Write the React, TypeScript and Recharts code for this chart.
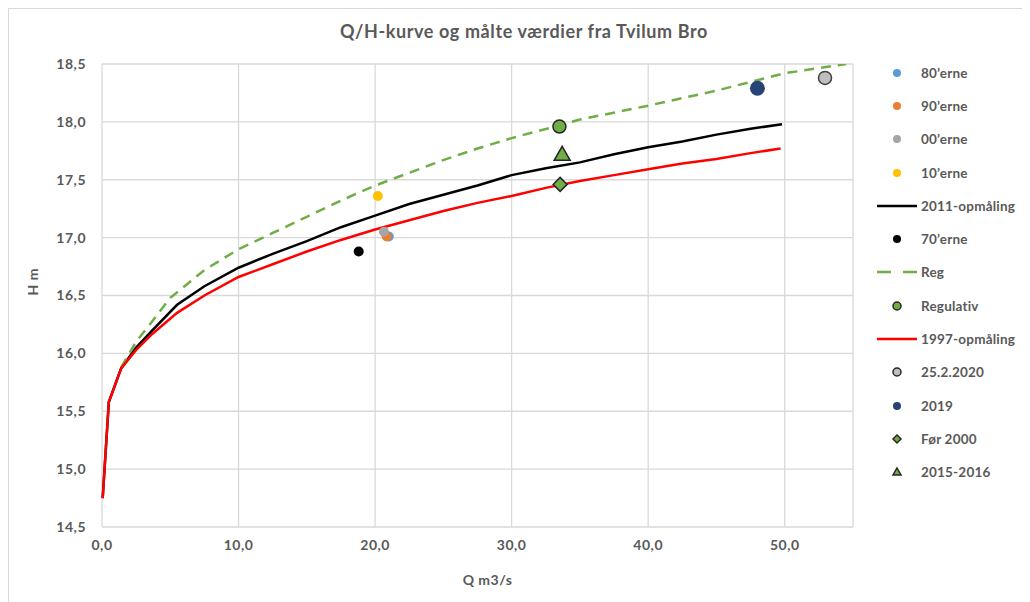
import React from 'react';
import { ComposedChart, Line, Scatter, XAxis, YAxis, CartesianGrid } from 'recharts';

type Pt = { q: number; h: number };

// kurver (Q m3/s, H m)
const opm2011: Pt[] = [
  { q: 0.05, h: 14.75 }, { q: 0.5, h: 15.58 }, { q: 1.4, h: 15.87 }, { q: 2.5, h: 16.05 },
  { q: 3.7, h: 16.2 }, { q: 5.5, h: 16.42 }, { q: 7.5, h: 16.58 }, { q: 10, h: 16.74 },
  { q: 12.5, h: 16.86 }, { q: 15, h: 16.97 }, { q: 17.5, h: 17.09 }, { q: 20, h: 17.19 },
  { q: 22.5, h: 17.29 }, { q: 25, h: 17.37 }, { q: 27.5, h: 17.45 }, { q: 30, h: 17.54 },
  { q: 32.5, h: 17.6 }, { q: 35, h: 17.65 }, { q: 37.5, h: 17.72 }, { q: 40, h: 17.78 },
  { q: 42.5, h: 17.83 }, { q: 45, h: 17.89 }, { q: 47.5, h: 17.94 }, { q: 49.8, h: 17.98 },
];

const opm1997: Pt[] = [
  { q: 0.05, h: 14.75 }, { q: 0.5, h: 15.58 }, { q: 1.4, h: 15.87 }, { q: 2.5, h: 16.03 },
  { q: 3.7, h: 16.17 }, { q: 5.5, h: 16.35 }, { q: 7.5, h: 16.5 }, { q: 10, h: 16.66 },
  { q: 12.5, h: 16.77 }, { q: 15, h: 16.88 }, { q: 17.5, h: 16.98 }, { q: 20, h: 17.07 },
  { q: 22.5, h: 17.15 }, { q: 25, h: 17.23 }, { q: 27.5, h: 17.3 }, { q: 30, h: 17.36 },
  { q: 32.5, h: 17.43 }, { q: 35, h: 17.49 }, { q: 37.5, h: 17.54 }, { q: 40, h: 17.59 },
  { q: 42.5, h: 17.64 }, { q: 45, h: 17.68 }, { q: 47.5, h: 17.73 }, { q: 49.7, h: 17.77 },
];

const reg: Pt[] = [
  { q: 1.4, h: 15.88 }, { q: 2.5, h: 16.1 }, { q: 3.7, h: 16.28 }, { q: 5, h: 16.48 },
  { q: 7.5, h: 16.72 }, { q: 10, h: 16.9 }, { q: 12.5, h: 17.04 }, { q: 15, h: 17.18 },
  { q: 17.5, h: 17.32 }, { q: 20, h: 17.45 }, { q: 22.5, h: 17.56 }, { q: 25, h: 17.67 },
  { q: 27.5, h: 17.77 }, { q: 30, h: 17.86 }, { q: 33.5, h: 17.97 }, { q: 35, h: 18.02 },
  { q: 40, h: 18.14 }, { q: 45, h: 18.27 }, { q: 50, h: 18.42 }, { q: 54.5, h: 18.5 },
];

// målte værdier
const m70: Pt[] = [{ q: 18.8, h: 16.88 }];
const m80: Pt[] = [{ q: 21.0, h: 17.01 }];
const m90: Pt[] = [{ q: 20.85, h: 17.01 }];
const m00: Pt[] = [{ q: 20.65, h: 17.05 }];
const m10: Pt[] = [{ q: 20.2, h: 17.36 }];
const regulativ: Pt[] = [{ q: 33.5, h: 17.96 }];
const m2020: Pt[] = [{ q: 52.95, h: 18.38 }];
const m2019: Pt[] = [{ q: 48.0, h: 18.29 }];
const foer2000: Pt[] = [{ q: 33.55, h: 17.46 }];
const m2015: Pt[] = [{ q: 33.7, h: 17.72 }];

const xTicks = [0, 10, 20, 30, 40, 50];
const yTicks = [14.5, 15, 15.5, 16, 16.5, 17, 17.5, 18, 18.5];

const GREEN = '#70AD47';
const TEXT = '#595959';
const FONT = 'Lato, "Open Sans", sans-serif';
const tickStyle = { fill: TEXT, fontSize: 14, fontWeight: 700, fontFamily: FONT, letterSpacing: 0.5 };

type Kind = 'circle' | 'diamond' | 'triangle' | 'line' | 'dash';
type Entry = { name: string; kind: Kind; fill: string; stroke?: string };

const legendItems: Entry[] = [
  { name: '80’erne', kind: 'circle', fill: '#5B9BD5' },
  { name: '90’erne', kind: 'circle', fill: '#ED7D31' },
  { name: '00’erne', kind: 'circle', fill: '#A5A5A5' },
  { name: '10’erne', kind: 'circle', fill: '#FFC000' },
  { name: '2011-opmåling', kind: 'line', fill: '#000000' },
  { name: '70’erne', kind: 'circle', fill: '#000000' },
  { name: 'Reg', kind: 'dash', fill: GREEN },
  { name: 'Regulativ', kind: 'circle', fill: GREEN, stroke: '#262626' },
  { name: '1997-opmåling', kind: 'line', fill: '#FF0000' },
  { name: '25.2.2020', kind: 'circle', fill: '#BFBFBF', stroke: '#262626' },
  { name: '2019', kind: 'circle', fill: '#264478' },
  { name: 'Før 2000', kind: 'diamond', fill: GREEN, stroke: '#262626' },
  { name: '2015-2016', kind: 'triangle', fill: GREEN, stroke: '#262626' },
];

const marker = (kind: Kind, cx: number, cy: number, r: number, fill: string, stroke?: string) => {
  const sw = stroke ? 1.5 : 0;
  if (kind === 'diamond') {
    return (
      <polygon
        points={`${cx},${cy - r} ${cx + r},${cy} ${cx},${cy + r} ${cx - r},${cy}`}
        fill={fill}
        stroke={stroke}
        strokeWidth={sw}
      />
    );
  }
  if (kind === 'triangle') {
    return (
      <polygon
        points={`${cx},${cy - r} ${cx + r},${cy + r * 0.75} ${cx - r},${cy + r * 0.75}`}
        fill={fill}
        stroke={stroke}
        strokeWidth={sw}
      />
    );
  }
  return <circle cx={cx} cy={cy} r={r} fill={fill} stroke={stroke} strokeWidth={sw} />;
};

const shape = (kind: Kind, r: number, fill: string, stroke?: string) => (props: any) =>
  marker(kind, props.cx, props.cy, r, fill, stroke);

const fmt = (v: number) => v.toFixed(1).replace('.', ',');

const LegendBox = () => (
  <div
    style={{
      position: 'absolute',
      left: 866,
      top: 47,
      fontFamily: FONT,
      fontSize: 13.5,
      fontWeight: 700,
      letterSpacing: 0.2,
      color: TEXT,
    }}
  >
    {legendItems.map((it) => (
      <div key={it.name} style={{ display: 'flex', alignItems: 'center', height: 33.3 }}>
        <svg width={44} height={14}>
          {it.kind === 'line' && <line x1={2} y1={7} x2={42} y2={7} stroke={it.fill} strokeWidth={2.5} />}
          {it.kind === 'dash' && (
            <line x1={2} y1={7} x2={42} y2={7} stroke={it.fill} strokeWidth={2.5} strokeDasharray="14 12" />
          )}
          {it.kind !== 'line' && it.kind !== 'dash' && marker(it.kind, 22, 7, 4, it.fill, it.stroke)}
        </svg>
        <span style={{ marginLeft: 2 }}>{it.name}</span>
      </div>
    ))}
  </div>
);

export default function App() {
  return (
    <div
      style={{
        position: 'relative',
        width: 1013,
        height: 594,
        borderLeft: '1px solid #d9d9d9',
        borderTop: '1px solid #d9d9d9',
        background: '#fff',
      }}
    >
      <div
        style={{
          position: 'absolute',
          top: 11,
          left: 0,
          width: 1030,
          textAlign: 'center',
          fontFamily: FONT,
          fontSize: 18,
          fontWeight: 700,
          letterSpacing: 0.6,
          color: TEXT,
        }}
      >
        Q/H-kurve og målte værdier fra Tvilum Bro
      </div>
      <ComposedChart width={1000} height={590} margin={{ top: 55, right: 156, bottom: 0, left: 0 }}>
        <CartesianGrid stroke="#d9d9d9" strokeWidth={1.3} />
        <XAxis
          type="number"
          dataKey="q"
          domain={[0, 55]}
          ticks={xTicks}
          tickFormatter={fmt}
          axisLine={false}
          tickLine={false}
          height={72}
          tickMargin={7}
          tick={tickStyle}
          label={{ value: 'Q m3/s', position: 'insideBottom', offset: 14, dx: 10, ...tickStyle }}
        />
        <YAxis
          type="number"
          dataKey="h"
          domain={[14.5, 18.5]}
          ticks={yTicks}
          tickFormatter={fmt}
          axisLine={false}
          tickLine={false}
          width={93}
          tickMargin={10}
          allowDataOverflow
          tick={tickStyle}
          label={{ value: 'H m', angle: -90, position: 'insideLeft', offset: 24, ...tickStyle }}
        />
        <Line data={opm2011} dataKey="h" name="2011-opmåling" stroke="#000" strokeWidth={2.5} dot={false} isAnimationActive={false} />
        <Line data={reg} dataKey="h" name="Reg" stroke={GREEN} strokeWidth={2.5} strokeDasharray="10 7" dot={false} isAnimationActive={false} />
        <Line data={opm1997} dataKey="h" name="1997-opmåling" stroke="#FF0000" strokeWidth={2.5} dot={false} isAnimationActive={false} />
        <Scatter data={m80} name="80’erne" shape={shape('circle', 5, '#5B9BD5')} isAnimationActive={false} />
        <Scatter data={m90} name="90’erne" shape={shape('circle', 5, '#ED7D31')} isAnimationActive={false} />
        <Scatter data={m00} name="00’erne" shape={shape('circle', 5, '#A5A5A5')} isAnimationActive={false} />
        <Scatter data={m10} name="10’erne" shape={shape('circle', 5, '#FFC000')} isAnimationActive={false} />
        <Scatter data={m70} name="70’erne" shape={shape('circle', 5, '#000000')} isAnimationActive={false} />
        <Scatter data={regulativ} name="Regulativ" shape={shape('circle', 6.5, GREEN, '#262626')} isAnimationActive={false} />
        <Scatter data={m2020} name="25.2.2020" shape={shape('circle', 6.5, '#BFBFBF', '#404040')} isAnimationActive={false} />
        <Scatter data={m2019} name="2019" shape={shape('circle', 7.5, '#264478')} isAnimationActive={false} />
        <Scatter data={foer2000} name="Før 2000" shape={shape('diamond', 7, GREEN, '#262626')} isAnimationActive={false} />
        <Scatter data={m2015} name="2015-2016" shape={shape('triangle', 8, GREEN, '#262626')} isAnimationActive={false} />
      </ComposedChart>
      <LegendBox />
    </div>
  );
}
